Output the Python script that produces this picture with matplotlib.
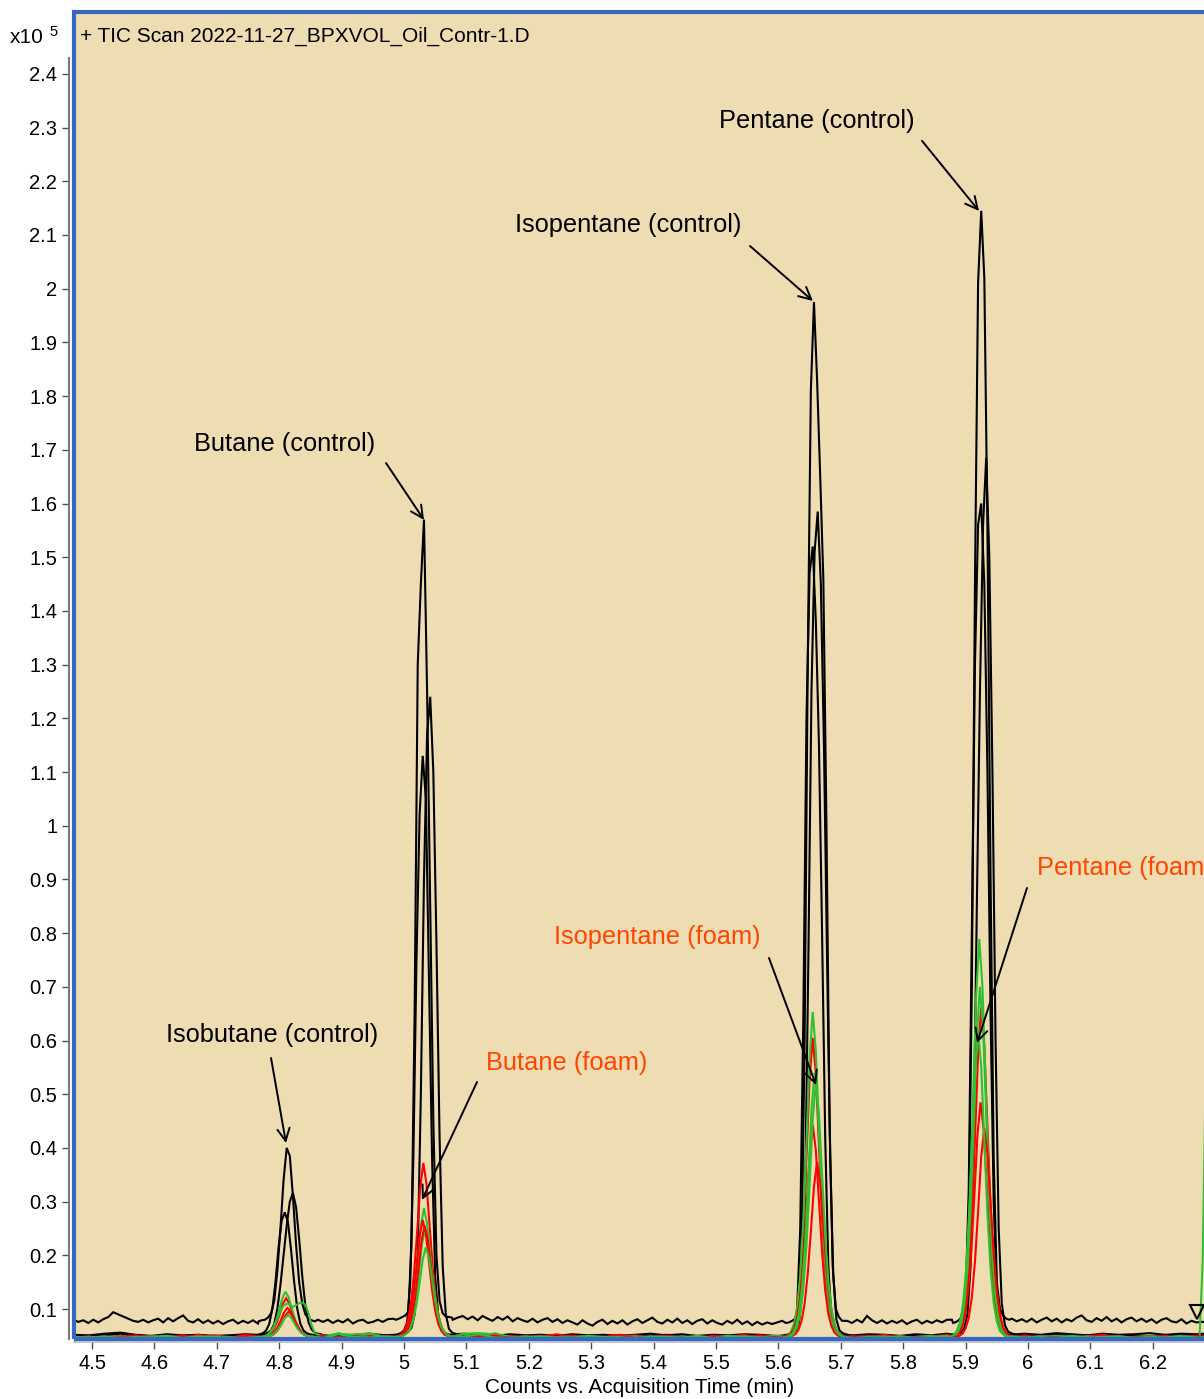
import matplotlib
matplotlib.use('Agg')
import matplotlib.pyplot as plt
from matplotlib.patches import Rectangle
import numpy as np

plt.rcParams['font.family'] = ['Liberation Sans', 'DejaVu Sans']

# all intensities in units of 100 counts (axis is x10^5)
t_first = 4.470
step_top = 0.008   # sampling of the upper control baseline
step_low = 0.025   # sampling of the other baselines
step_pk = 0.005    # sampling inside the peak windows

x_ticks = [4.5, 4.6, 4.7, 4.8, 4.9, 5.0, 5.1, 5.2, 5.3, 5.4, 5.5, 5.6, 5.7, 5.8, 5.9, 6.0, 6.1, 6.2]
y_ticks = [0.1, 0.2, 0.3, 0.4, 0.5, 0.6, 0.7, 0.8, 0.9, 1.0, 1.1, 1.2,
           1.3, 1.4, 1.5, 1.6, 1.7, 1.8, 1.9, 2.0, 2.1, 2.2, 2.3, 2.4]

# ---- control run 1 (upper black trace) ----
ctrl1_base = [80, 76, 79, 74, 80, 75, 81, 85, 94, 90, 86, 82, 78, 76, 80, 75, 79, 82, 75, 83,
              77, 83, 88, 78, 75, 81, 74, 79, 73, 78, 72, 77, 80, 73, 78, 74, 79, 73, 76, 80,
              80, 80, 80, 80, 80, 80, 80, 80, 80, 80, 76, 80, 74, 79, 75, 81, 73, 78, 80, 74,
              76, 80, 76, 81, 82, 80, 80, 80, 80, 80, 80, 80, 80, 80, 80, 80, 80, 84, 87, 81,
              86, 79, 87, 82, 78, 85, 80, 86, 77, 83, 79, 76, 82, 75, 80, 83, 76, 81, 74, 79,
              75, 71, 79, 73, 69, 76, 80, 72, 78, 73, 79, 71, 77, 81, 74, 79, 84, 76, 73, 80,
              75, 82, 74, 79, 72, 78, 81, 73, 79, 74, 71, 78, 73, 80, 72, 77, 70, 76, 71, 75,
              72, 75, 78, 75, 75, 75, 75, 75, 75, 75, 75, 75, 75, 75, 75, 78, 74, 80, 75, 87,
              79, 74, 79, 73, 78, 74, 79, 72, 77, 80, 73, 78, 74, 79, 75, 80, 80, 80, 80, 80,
              80, 80, 80, 80, 80, 80, 80, 80, 82, 77, 81, 76, 82, 75, 80, 84, 77, 82, 75, 81,
              77, 84, 88, 79, 76, 83, 78, 85, 77, 82, 75, 81, 84, 77, 82, 76, 81, 74, 80, 83,
              77, 75, 81, 73, 78, 75, 76, 76]
ctrl1_peaks = [
    (4.812, [77, 79, 80, 84, 92, 115, 170, 250, 340, 400, 385, 310, 220, 150, 110, 90, 82, 79, 77]),
    (5.032, [80, 82, 85, 88, 95, 220, 650, 1300, 1450, 1570, 1250, 850, 450, 200, 115, 92, 86, 85, 84]),
    (5.657, [74, 75, 78, 82, 100, 200, 600, 1300, 1810, 1975, 1830, 1650, 1460, 1000, 450, 180, 100, 85, 78]),
    (5.925, [74, 76, 80, 88, 110, 260, 700, 1450, 2010, 2145, 2020, 1550, 900, 380, 150, 100, 88, 82, 80]),
]

# ---- control runs 2 and 3 ----
ctrl2_base = [52, 51, 54, 56, 52, 50, 53, 51, 52, 50, 51, 53, 50, 52, 51, 53, 51, 50, 52, 54,
              51, 53, 50, 52, 51, 54, 52, 50, 53, 51, 52, 50, 53, 51, 52, 50, 52, 54, 51, 53,
              50, 52, 51, 53, 52, 50, 53, 51, 52, 54, 51, 53, 52, 50, 53, 51, 54, 52, 55, 53,
              51, 54, 52, 55, 53, 51, 54, 52, 53, 55, 52, 54, 53, 55]
ctrl2_peaks = [
    (4.809, [52, 53, 55, 60, 72, 100, 150, 215, 265, 280, 262, 210, 150, 100, 72, 60, 55, 53, 52]),
    (5.030, [52, 53, 55, 60, 75, 150, 380, 750, 1020, 1130, 1050, 720, 380, 160, 85, 62, 56, 53, 52]),
    (5.655, [50, 52, 56, 65, 100, 250, 650, 1200, 1470, 1520, 1380, 1150, 800, 420, 180, 85, 62, 55, 52]),
    (5.925, [52, 54, 58, 70, 120, 320, 800, 1300, 1560, 1600, 1450, 1100, 650, 300, 130, 75, 60, 55, 52]),
]
ctrl3_base = [50, 49, 51, 54, 50, 48, 50, 49, 51, 48, 50, 49, 51, 48, 50, 52, 49, 48, 50, 49,
              51, 49, 50, 48, 51, 49, 50, 52, 48, 50, 49, 51, 48, 50, 49, 51, 48, 50, 52, 49,
              48, 50, 49, 51, 50, 48, 51, 49, 50, 48, 49, 51, 50, 48, 50, 49, 51, 48, 50, 49,
              51, 49, 50, 52, 49, 51, 50, 48, 51, 49, 50, 52, 49, 51]
ctrl3_peaks = [
    (4.822, [54, 56, 60, 72, 100, 145, 200, 255, 300, 316, 290, 230, 160, 105, 75, 62, 56, 54, 53]),
    (5.042, [53, 55, 58, 65, 90, 200, 500, 900, 1170, 1240, 1100, 780, 420, 180, 90, 63, 56, 54, 53]),
    (5.663, [53, 55, 60, 75, 130, 330, 750, 1250, 1510, 1585, 1450, 1150, 750, 380, 160, 80, 60, 55, 53]),
    (5.933, [54, 57, 65, 90, 180, 420, 850, 1250, 1560, 1685, 1500, 1100, 600, 250, 110, 70, 58, 55, 53]),
]

# ---- foam runs (red) ----
redA_base = [47, 49, 46, 48, 50, 47, 49, 46, 52, 47, 48, 45, 50, 47, 49, 53, 46, 48, 47, 51,
             46, 49, 47, 48, 52, 46, 49, 47, 50, 46, 48, 53, 47, 49, 46, 48, 51, 47, 49, 46,
             50, 47, 48, 52, 46, 49, 47, 50, 48, 46, 49, 47, 52, 46, 48, 50, 47, 49, 46, 51,
             47, 48, 46, 50, 47, 49, 52, 46, 48, 47, 50, 46, 49, 48]
redA_peaks = [
    (4.811, [48, 48, 49, 51, 54, 62, 74, 91, 110, 120, 111, 94, 77, 64, 56, 52, 49, 49, 48]),
    (5.031, [48, 50, 53, 61, 77, 110, 165, 242, 327, 372, 333, 255, 178, 119, 84, 64, 54, 51, 48]),
    (5.655, [48, 51, 56, 70, 98, 154, 249, 382, 527, 605, 538, 404, 271, 171, 109, 76, 59, 52, 48]),
    (5.925, [48, 51, 57, 73, 103, 165, 269, 416, 576, 662, 588, 441, 294, 183, 116, 79, 60, 53, 48]),
]
redB_base = [46, 48, 47, 50, 46, 49, 47, 48, 46, 51, 47, 49, 46, 48, 50, 47, 49, 46, 48, 47,
             50, 47, 46, 49, 48, 47, 50, 46, 48, 49, 47, 46, 50, 48, 47, 49, 46, 48, 50, 47,
             49, 46, 48, 47, 51, 46, 48, 49, 47, 50, 46, 48, 47, 49, 46, 50, 48, 47, 49, 46,
             48, 50, 47, 46, 49, 48, 47, 50, 46, 48, 49, 47, 48, 46]
redB_peaks = [
    (4.813, [48, 48, 49, 50, 53, 58, 67, 80, 94, 102, 96, 83, 70, 60, 54, 51, 49, 48, 48]),
    (5.030, [48, 49, 51, 57, 68, 89, 126, 179, 235, 266, 240, 188, 135, 96, 72, 59, 52, 50, 48]),
    (5.655, [48, 50, 54, 64, 84, 123, 190, 285, 388, 443, 396, 301, 206, 135, 91, 68, 56, 51, 48]),
    (5.924, [48, 50, 55, 65, 87, 131, 205, 310, 424, 485, 433, 328, 223, 144, 96, 70, 57, 52, 48]),
]
redC_base = [48, 46, 49, 47, 51, 46, 48, 50, 47, 49, 46, 52, 48, 46, 49, 47, 50, 46, 49, 48,
             46, 51, 47, 49, 46, 48, 47, 51, 46, 48, 50, 47, 46, 49, 48, 52, 46, 49, 47, 48,
             46, 50, 47, 49, 46, 48, 51, 47, 49, 46, 48, 50, 46, 49, 47, 48, 52, 46, 48, 47,
             50, 46, 49, 47, 48, 46, 51, 48, 47, 49, 46, 48, 50, 47]
redC_peaks = [
    (4.815, [48, 48, 49, 50, 52, 57, 65, 76, 88, 95, 89, 78, 67, 58, 53, 50, 49, 48, 48]),
    (5.033, [48, 49, 51, 56, 67, 87, 123, 172, 226, 255, 230, 180, 131, 94, 71, 58, 52, 50, 48]),
    (5.662, [48, 50, 53, 61, 77, 110, 165, 244, 328, 374, 335, 257, 178, 120, 84, 64, 55, 51, 48]),
    (5.930, [48, 50, 54, 64, 83, 122, 188, 281, 383, 437, 390, 297, 204, 134, 91, 67, 56, 51, 48]),
]

# ---- foam runs (green) ----
grnA_base = [47, 48, 46, 49, 47, 50, 46, 48, 47, 49, 46, 48, 50, 47, 49, 46, 48, 55, 47, 54,
             48, 46, 49, 47, 48, 53, 47, 55, 48, 46, 49, 47, 50, 46, 48, 47, 49, 46, 50, 47,
             48, 46, 49, 47, 48, 50, 46, 49, 47, 48, 46, 50, 47, 49, 46, 48, 47, 50, 46, 48,
             49, 47, 46, 50, 48, 47, 49, 46, 48, 50, 47, 49, 48, 48]
grnA_peaks = [
    (4.810, [48, 48, 49, 51, 56, 64, 78, 98, 120, 132, 122, 102, 82, 66, 57, 52, 50, 49, 48]),
    (5.032, [48, 49, 52, 58, 70, 94, 134, 192, 254, 288, 259, 202, 144, 101, 74, 60, 53, 50, 48]),
    (5.655, [48, 51, 57, 72, 102, 163, 266, 411, 568, 653, 580, 435, 290, 181, 115, 78, 60, 53, 48]),
    (5.922, [48, 52, 59, 78, 115, 189, 315, 493, 685, 789, 700, 522, 344, 211, 130, 85, 63, 54, 48]),
    (6.300, [48, 49, 48, 50, 50, 190, 560, 1100, 1700, 2200, 2400, 2400, 2400, 2400, 2400, 2400, 2400, 2400, 2400]),
]
grnB_base = [46, 48, 47, 49, 46, 48, 50, 47, 46, 49, 48, 46, 47, 50, 46, 48, 49, 54, 52, 55,
             47, 48, 46, 49, 47, 54, 55, 53, 47, 49, 46, 48, 47, 50, 46, 49, 48, 46, 47, 49,
             46, 48, 50, 47, 46, 49, 48, 47, 46, 50, 48, 47, 49, 46, 48, 50, 47, 46, 49, 48,
             47, 46, 50, 48, 47, 49, 46, 48, 47, 50, 46, 48, 47, 49]
grnB_peaks = [
    (4.812, [48, 48, 49, 52, 58, 68, 82, 96, 106, 110, 108, 104, 107, 111, 112, 108, 92, 70, 55]),
    (5.034, [48, 49, 51, 56, 66, 86, 121, 169, 222, 250, 226, 177, 129, 92, 70, 58, 52, 50, 48]),
    (5.658, [48, 50, 55, 68, 92, 141, 225, 343, 471, 540, 481, 363, 245, 156, 102, 73, 58, 52, 48]),
    (5.923, [48, 51, 58, 74, 107, 172, 283, 439, 609, 700, 622, 465, 309, 191, 120, 81, 61, 53, 48]),
]
grnC_base = [48, 47, 49, 46, 48, 47, 50, 46, 49, 48, 47, 46, 49, 47, 48, 50, 46, 53, 48, 47,
             49, 46, 48, 47, 50, 48, 53, 47, 46, 48, 49, 47, 46, 50, 48, 47, 46, 49, 48, 47,
             50, 46, 48, 49, 47, 46, 48, 50, 47, 49, 46, 48, 47, 49, 46, 48, 50, 47, 48, 46,
             49, 47, 48, 46, 50, 47, 48, 49, 46, 48, 47, 50, 47, 48]
grnC_peaks = [
    (4.814, [48, 48, 49, 50, 52, 56, 63, 73, 83, 89, 84, 74, 64, 57, 53, 50, 49, 48, 48]),
    (5.035, [48, 49, 51, 55, 63, 80, 108, 148, 192, 215, 195, 155, 115, 85, 66, 56, 51, 49, 48]),
    (5.660, [48, 50, 55, 67, 90, 138, 218, 331, 454, 520, 463, 350, 237, 152, 100, 72, 57, 52, 48]),
    (5.920, [48, 51, 57, 71, 99, 157, 254, 391, 540, 620, 551, 414, 277, 174, 111, 77, 59, 53, 48]),
]


def build(step, base, peaks):
    """merge a baseline and its peak windows into one time-ordered trace"""
    t = t_first + step * np.arange(len(base))
    y = np.asarray(base, float)
    keep = np.ones(len(t), bool)
    tt, yy = [], []
    for centre, vals in peaks:
        tp = centre + step_pk * (np.arange(len(vals)) - len(vals) // 2)
        keep &= (t < tp[0] - 1e-9) | (t > tp[-1] + 1e-9)
        tt.append(tp)
        yy.append(np.asarray(vals, float))
    tt = np.concatenate([t[keep]] + tt)
    yy = np.concatenate([y[keep]] + yy)
    order = np.argsort(tt)
    return tt[order], yy[order] / 1000.0


fig = plt.figure(figsize=(12.04, 13.99), dpi=100)
ax = fig.add_axes([74 / 1204, (1399 - 1338.5) / 1399, (1212 - 74) / 1204, (1338.5 - 11.5) / 1399])
ax.set_facecolor('#EEDDB3')

ylo = 0.04507
ax.set_xlim(4.47115, 6.29487)
ax.set_ylim(ylo, 2.5162)

black, red, green = 'black', '#FF0000', '#2EC02E'
traces = [
    (step_top, ctrl1_base, ctrl1_peaks, black),
    (step_low, ctrl2_base, ctrl2_peaks, black),
    (step_low, ctrl3_base, ctrl3_peaks, black),
    (step_low, redA_base, redA_peaks, red),
    (step_low, grnA_base, grnA_peaks, green),
    (step_low, redB_base, redB_peaks, red),
    (step_low, grnB_base, grnB_peaks, green),
    (step_low, redC_base, redC_peaks, red),
    (step_low, grnC_base, grnC_peaks, green),
]
for step, base, peaks, col in traces:
    t, y = build(step, base, peaks)
    ax.plot(t, y, color=col, lw=1.5, solid_joinstyle='miter')

# end-of-range marker
ax.plot([6.2713], [0.0935], marker='v', ms=10, mfc='none', mec='black', mew=1.5, zorder=5)

# annotations
ann = dict(fontsize=18.3, ha='center', va='center')
arrow = dict(arrowstyle='->', color='black', lw=1.4, mutation_scale=22, shrinkA=0, shrinkB=0)
ax.text(4.8093, 1.7108, 'Butane (control)', color='black', **ann)
ax.annotate('', xy=(5.0321, 1.5693), xytext=(4.9712, 1.6754), arrowprops=arrow)
ax.text(5.3590, 2.1186, 'Isopentane (control)', color='black', **ann)
ax.annotate('', xy=(5.6554, 1.9771), xytext=(5.5545, 2.0795), arrowprops=arrow)
ax.text(5.6619, 2.3127, 'Pentane (control)', color='black', **ann)
ax.annotate('', xy=(5.9215, 2.1447), xytext=(5.8301, 2.2754), arrowprops=arrow)
ax.text(4.7885, 0.6102, 'Isobutane (control)', color='black', **ann)
ax.annotate('', xy=(4.8109, 0.4091), xytext=(4.7869, 0.5674), arrowprops=arrow)

foam = '#FF4500'
ax.text(5.2612, 0.5581, 'Butane (foam)', color=foam, **ann)
ax.annotate('', xy=(5.0288, 0.3030), xytext=(5.1170, 0.5227), arrowprops=arrow)
ax.text(5.4054, 0.7927, 'Isopentane (foam)', color=foam, **ann)
ax.annotate('', xy=(5.6603, 0.5171), xytext=(5.5849, 0.7536), arrowprops=arrow)
# this label runs off the right edge in the original too
ax.text(6.0144, 0.9212, 'Pentane (foam)', color=foam, fontsize=18.3, ha='left', va='center')
ax.annotate('', xy=(5.9183, 0.5953), xytext=(5.9984, 0.8840), arrowprops=arrow)

# axes look
ax.spines['top'].set_visible(False)
ax.spines['right'].set_visible(False)
ax.spines['left'].set_position(('outward', 3.6))
ax.spines['left'].set_color('#7a7a7a')
ax.spines['left'].set_linewidth(1.5)
ax.spines['left'].set_bounds(ylo, 2.43)
ax.spines['bottom'].set_position(('outward', 2.6))
ax.spines['bottom'].set_color('#bcbcbc')
ax.spines['bottom'].set_linewidth(1.2)
ax.add_patch(Rectangle((0, 0), 1, 1, transform=ax.transAxes, fill=False,
                       ec='#3468C4', lw=3, zorder=10, clip_on=False))

ax.set_xticks(x_ticks)
ax.set_xticklabels(['%g' % v for v in x_ticks])
ax.set_yticks(y_ticks)
ax.set_yticklabels(['%g' % v for v in y_ticks])
ax.tick_params(axis='both', direction='out', length=5, width=1, color='#505050',
               labelsize=14.5, pad=3.5)

fig.text(80 / 1204, (1399 - 41.7) / 1399, '+ TIC Scan 2022-11-27_BPXVOL_Oil_Contr-1.D',
         fontsize=15, ha='left', va='baseline')
fig.text(10 / 1204, (1399 - 43) / 1399, 'x10', fontsize=15, ha='left', va='baseline')
fig.text(49 / 1204, (1399 - 36) / 1399, '5', fontsize=10.5, ha='left', va='baseline')
fig.text(640 / 1204, (1399 - 1393) / 1399, 'Counts vs. Acquisition Time (min)',
         fontsize=15, ha='center', va='baseline')

fig.savefig('out.png', dpi=100)
